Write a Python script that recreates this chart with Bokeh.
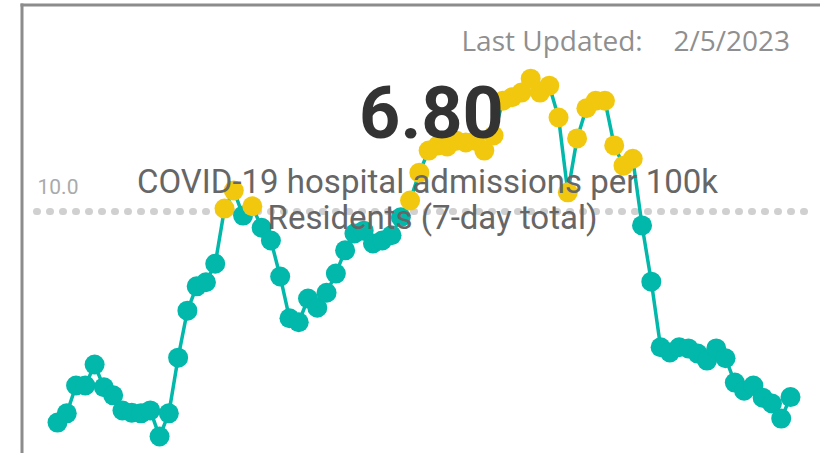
from bokeh.plotting import figure
from bokeh.models import Range1d, Label
from bokeh.embed import file_html
from bokeh.resources import INLINE

# ---- data (7-day COVID-19 hospital admissions per 100k) ----
values = [6.36, 6.52, 7.00, 7.00, 7.36, 6.97, 6.83, 6.57, 6.53, 6.52,
          6.57, 6.12, 6.52, 7.48, 8.29, 8.71, 8.78, 9.10, 10.05, 10.36,
          9.93, 10.09, 9.72, 9.50, 8.88, 8.16, 8.09, 8.50, 8.34, 8.60,
          8.93, 9.33, 9.62, 9.67, 9.45, 9.50, 9.59, 9.90, 10.19, 10.67,
          11.05, 11.14, 11.12, 11.22, 11.19, 11.22, 11.05, 11.31, 11.91, 11.97,
          12.05, 12.29, 12.05, 12.17, 11.62, 10.33, 11.26, 11.78, 11.91, 11.91,
          11.14, 10.79, 10.91, 9.76, 8.79, 7.66, 7.57, 7.66, 7.64, 7.55,
          7.43, 7.64, 7.47, 7.05, 6.91, 7.00, 6.79, 6.69, 6.43, 6.80]
days = list(range(len(values)))
threshold = 10.0
threshold_label = "10.0"
current_value = "6.80"
last_updated = "2/5/2023"
title_lines = ["COVID-19 hospital admissions per 100k", "Residents (7-day total)"]

TEAL = "#01B8AA"
YELLOW = "#F2C80F"
colors = [YELLOW if v > threshold else TEAL for v in values]

W, H = 820, 453
DX = 733 / 79.0
X0 = 57  # px of first point


def px2x(px):
    return (px - X0) / DX


def py2y(py):
    return threshold + (211 - py) / 58.0


def label_y(baseline_px, size):
    # compensate the renderer's baseline placement
    return py2y(baseline_px - 0.35 * size)


p = figure(width=W, height=H, output_backend="svg", toolbar_location=None,
           x_range=Range1d(px2x(0), px2x(W)),
           y_range=Range1d(py2y(H), py2y(0)),
           x_axis_location=None, y_axis_location=None, min_border=0)
p.grid.visible = False
p.outline_line_color = None
p.background_fill_color = "white"
p.border_fill_color = "white"

# frame of the visual
p.line([px2x(21.5), px2x(21.5)], [py2y(3), py2y(470)], line_color="#8c8c8c", line_width=3)
p.line([px2x(20), px2x(840)], [py2y(4.5), py2y(4.5)], line_color="#8c8c8c", line_width=3)

# dotted threshold line
p.line([px2x(36), px2x(815)], [threshold, threshold], line_color="#d0d0d0",
       line_width=7, line_dash="1 12", line_cap="round")

p.line(days, values, line_color=TEAL, line_width=3.5)
p.scatter(days, values, size=20, fill_color=colors, line_color=None)

p.add_layout(Label(x=px2x(37), y=label_y(193, 21), text=threshold_label, text_font="Roboto",
                   text_font_size="21px", text_color="#aaaaaa", text_baseline="alphabetic"))
p.add_layout(Label(x=px2x(461), y=label_y(49, 28), text="Last Updated:", text_font="Open Sans",
                   text_font_size="28px", text_color="#8f8f8f", text_baseline="alphabetic"))
p.add_layout(Label(x=px2x(673), y=label_y(49, 28), text=last_updated, text_font="Open Sans",
                   text_font_size="28px", text_color="#8f8f8f", text_baseline="alphabetic"))
p.add_layout(Label(x=px2x(431), y=label_y(137, 72), text=current_value, text_font="Roboto",
                   text_font_style="bold", text_font_size="72px", text_color="#333333",
                   text_align="center", text_baseline="alphabetic"))
p.add_layout(Label(x=px2x(427), y=label_y(193, 33), text=title_lines[0], text_font="Roboto",
                   text_font_size="33px", text_color="#666666", text_align="center",
                   text_baseline="alphabetic"))
p.add_layout(Label(x=px2x(432), y=label_y(229, 33), text=title_lines[1], text_font="Roboto",
                   text_font_size="33px", text_color="#666666", text_align="center",
                   text_baseline="alphabetic"))

open("out.html", "w").write(file_html(p, INLINE))
